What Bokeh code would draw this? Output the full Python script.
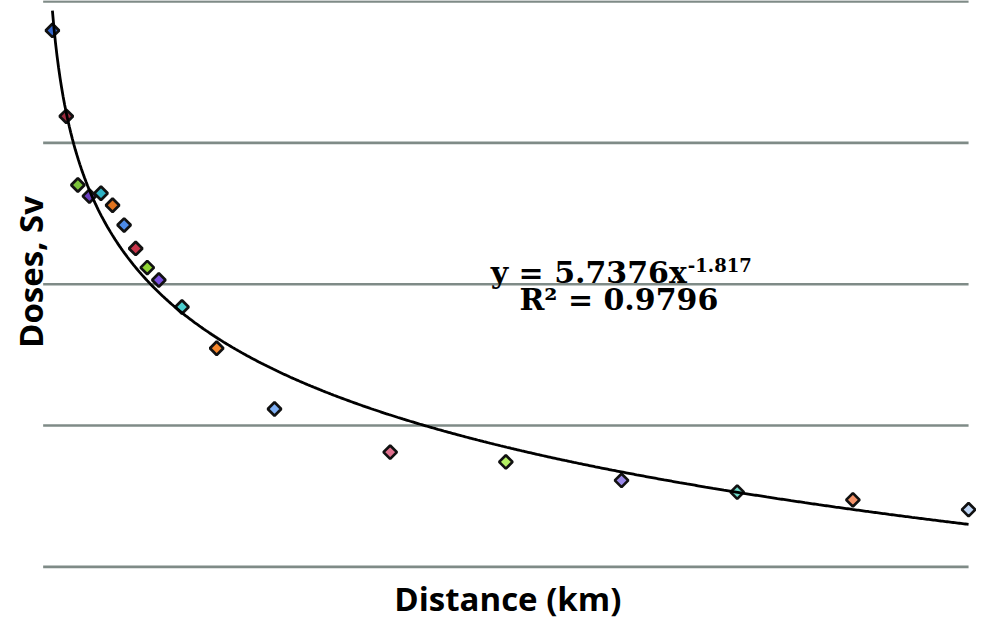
import numpy as np
from bokeh.plotting import figure
from bokeh.models import Range1d, Label
from bokeh.embed import file_html
from bokeh.resources import INLINE

# ---- data ----
distance_km = [0.8, 2, 3, 4, 5, 6, 7, 8, 9, 10, 12, 15, 20, 30, 40, 50, 60, 70, 80]
dose_sv = [6.24, 1.54, 0.503, 0.420, 0.440, 0.362, 0.262, 0.179, 0.131, 0.107,
           0.0690, 0.0352, 0.0131, 0.00648, 0.00553, 0.00409, 0.00338, 0.00298, 0.00254]
point_colors = ["#3366cc", "#9e2a3f", "#7cc23a", "#6a3fc0", "#2fb2c4", "#e0731e",
                "#4c8be8", "#c8344a", "#8fd433", "#7a4fe0", "#4ccfcf", "#f5862c",
                "#7fb0f5", "#e0708e", "#b5f064", "#9a88e8", "#6fd9c9", "#f4936a", "#c0d6f5"]
fit_coef = 5.7376
fit_exp = -1.817
fit_r2 = 0.9796
dose_gridlines = [0.001, 0.01, 0.1, 1, 10]
x_title = "Distance (km)"
y_title = "Doses, Sv"

# ---- layout helpers: reference pixel geometry (984 x 636) ----
REF_W, REF_H = 984.0, 636.0
W, H = 976, 620
PX_PER_KM = 11.6625
X0_PX = 43.0
BASELINE_FIX = 0.36   # label baseline offset, as a fraction of font size


def xd(px):
    return (px - X0_PX) / PX_PER_KM


def yd(py):
    return 10 ** ((146.0 - py) / 145.0)


p = figure(width=W, height=H, output_backend="svg", toolbar_location=None,
           x_range=Range1d(xd(0.0), xd(REF_W)), y_range=Range1d(yd(REF_H), yd(0.0)),
           y_axis_type="log", x_axis_location=None, y_axis_location=None,
           min_border_left=0, min_border_right=0, min_border_top=0, min_border_bottom=0)
p.outline_line_color = None
p.background_fill_color = "white"
p.border_fill_color = "white"
p.xgrid.visible = False
p.ygrid.visible = False

# horizontal gridlines spanning the distance axis (0 .. max distance)
n = len(dose_gridlines)
p.segment(x0=[0] * n, y0=dose_gridlines, x1=[max(distance_km)] * n, y1=dose_gridlines,
          line_color="#7f8b87", line_width=2.6)

p.scatter(distance_km, dose_sv, marker="square", angle=np.pi / 4, size=9.5,
          fill_color=point_colors, line_color="#111111", line_width=2.7)

xs = np.linspace(min(distance_km), max(distance_km), 600)
p.line(xs, fit_coef * xs ** fit_exp, line_color="black", line_width=2.8)


def label(px, py, text, size, font, align, angle=0.0):
    off = BASELINE_FIX * size
    if angle:
        px -= off
    else:
        py -= off
    p.add_layout(Label(x=xd(px), y=yd(py), text=text, text_align=align, angle=angle,
                       text_baseline="alphabetic", text_font=font, text_font_style="bold",
                       text_font_size=f"{size}px", text_color="black"))


serif = "DejaVu Serif"
label(692, 290, f"y = {fit_coef}x", 30, serif, "right")
label(693, 278, f"{fit_exp}", 18, serif, "left")
label(623.4, 318, f"R\u00b2 = {fit_r2}", 30, serif, "center")
label(511.5, 625, x_title, 33, "Open Sans", "center")
label(42, 278.5, y_title, 33, "Open Sans", "center", angle=np.pi / 2)

open("out.html", "w").write(file_html(p, INLINE))
